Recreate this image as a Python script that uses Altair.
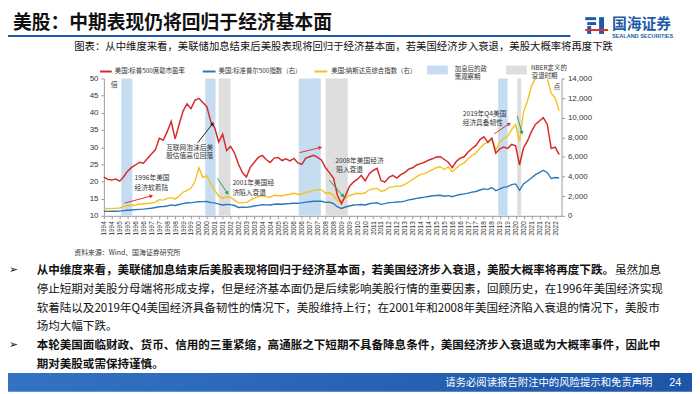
import altair as alt
import pandas as pd
import math

CJK = "Noto Sans CJK SC"
LAT = "Liberation Sans"

# ---------------- data (quarterly) ----------------
start_year = 1994
n_q = 116
t = [start_year + 0.25 * i for i in range(n_q)]

pe = [21.3, 20.6, 20.4, 20.7,  20.1, 21.4, 23.0, 24.1,  24.8, 25.6, 25.3, 26.7,
      28.0, 29.2, 32.6, 32.0,  34.5, 37.5, 32.4, 36.6,  40.5, 42.6, 41.2, 43.6,
      44.2, 43.0, 41.8, 37.5,  35.6, 31.5, 33.8, 29.0,  30.2, 28.3, 25.0, 22.6,
      21.3, 24.2, 25.6, 27.0,  27.6, 26.4, 25.5, 26.8,  27.0, 26.1, 26.6, 26.0,
      26.7, 25.4, 25.0, 26.8,  27.2, 27.6, 27.0, 26.2,  24.0, 22.5, 21.0, 16.0,
      13.5, 15.8, 18.5, 19.8,  20.6, 21.8, 20.2, 22.2,  23.2, 23.8, 20.3, 19.8,
      21.2, 21.8, 21.0, 22.0,  22.6, 23.6, 24.0, 24.8,  25.2, 25.6, 26.2, 26.6,
      27.1, 27.2, 26.4, 25.6,  24.0, 25.8, 26.8, 27.2,  28.6, 29.6, 30.5, 32.2,
      33.0, 31.4, 32.6, 28.2,  29.5, 30.0, 29.6, 30.8,  30.4, 24.8, 29.8, 31.8,
      34.5, 36.6, 37.6, 38.6,  36.6, 29.6, 30.0, 27.8]

spx = [470, 450, 460, 460,  480, 530, 570, 600,  630, 660, 680, 730,
       770, 850, 930, 950,  1000, 1120, 1050, 1150,  1250, 1330, 1320, 1400,
       1440, 1450, 1460, 1350,  1320, 1200, 1100, 1150,  1140, 1050, 850, 880,
       860, 920, 1000, 1060,  1130, 1120, 1110, 1180,  1200, 1180, 1230, 1250,
       1280, 1280, 1320, 1400,  1430, 1490, 1500, 1480,  1370, 1380, 1250, 900,
       750, 900, 1000, 1100,  1120, 1150, 1100, 1230,  1300, 1330, 1170, 1250,
       1350, 1370, 1410, 1420,  1500, 1620, 1690, 1780,  1840, 1900, 1970, 2040,
       2070, 2100, 2000, 2060,  1950, 2080, 2170, 2240,  2320, 2420, 2480, 2630,
       2750, 2700, 2880, 2550,  2750, 2900, 2980, 3180,  3250, 2600, 3250, 3550,
       3850, 4200, 4400, 4650,  4400, 3800, 3900, 3850]

ndx = [780, 730, 760, 760,  800, 930, 1050, 1050,  1100, 1200, 1200, 1280,
       1300, 1400, 1650, 1600,  1750, 1850, 1700, 2000,  2400, 2600, 2800, 3500,
       4900, 3900, 4100, 3300,  2600, 2000, 1800, 1950,  1900, 1600, 1300, 1350,
       1350, 1600, 1800, 1950,  2050, 1950, 1900, 2100,  2050, 2050, 2150, 2200,
       2300, 2200, 2200, 2400,  2450, 2600, 2700, 2650,  2300, 2350, 2100, 1550,
       1450, 1800, 2050, 2200,  2300, 2250, 2350, 2650,  2750, 2800, 2500, 2600,
       2900, 2950, 3050, 3000,  3200, 3450, 3700, 4000,  4200, 4300, 4500, 4700,
       4900, 5000, 4700, 5000,  4500, 4850, 5200, 5400,  5800, 6150, 6400, 6900,
       7300, 7500, 7900, 6700,  7500, 7900, 8100, 8800,  9300, 7600, 10600, 11700,
       13200, 14000, 14800, 15800,  14000, 12500, 12000, 10700]

hike_start = [1995.1, 2000.4, 2006.3, 2018.9]
hike_end = [1995.8, 2001.05, 2007.7, 2019.5]
rec_start = [2001.25, 2008.0, 2020.1]
rec_end = [2002.0, 2009.4, 2020.35]

# arrows: start (year, PE-axis value) -> end
arr_x0 = [1999.93, 1995.31, 2001.18, 2006.36, 2008.23, 2018.66, 2020.10]
arr_y0 = [31.3, 13.7, 20.9, 28.4, 20.4, 33.9, 39.1]
arr_x1 = [2000.87, 1997.00, 2001.80, 2007.67, 2009.10, 2019.60, 2020.40]
arr_y1 = [36.8, 15.8, 16.6, 29.9, 15.8, 36.8, 34.2]
arr_col = ["#222222", "#E0302A", "#1FA060", "#E0302A", "#1FA060", "#E0302A", "#1FA060"]

x_ticks = [1994 + 0.5 * i for i in range(58)]
pe_ticks = [10, 15, 20, 25, 30, 35, 40, 45, 50]
idx_ticks = [0, 2000, 4000, 6000, 8000, 10000, 12000, 14000]

RED = "#D62B2B"
BLUE = "#2A78BC"
YEL = "#F4C21D"
BAND_BLUE = "#C6DDF1"
BAND_GRAY = "#DEDEDE"

W, H = 463, 139

df = pd.DataFrame({"t": t, "pe": pe, "spx": spx, "ndx": ndx})
bands = pd.DataFrame({
    "s": hike_start + rec_start,
    "e": hike_end + rec_end,
    "c": [BAND_BLUE] * len(hike_start) + [BAND_GRAY] * len(rec_start),
})
ang = []
for a, b, c, d in zip(arr_x0, arr_y0, arr_x1, arr_y1):
    dx = (c - a) * W / 28.9
    dy = -(d - b) * H / 40.0
    ang.append(math.degrees(math.atan2(dx, -dy)) % 360)
arrows = pd.DataFrame({"x0": arr_x0, "y0": arr_y0, "x1": arr_x1, "y1": arr_y1,
                       "c": arr_col, "a": ang})
dummy = pd.DataFrame({"d": [0]})

xs = alt.Scale(domain=[1994, 2022.9], nice=False, zero=False)
pe_scale = alt.Scale(domain=[10, 50], nice=False, zero=False)
idx_scale = alt.Scale(domain=[0, 14000], nice=False, zero=False)
xaxis = alt.Axis(values=x_ticks, labelExpr="'' + floor(datum.value)", labelAngle=270,
                 labelFontSize=6.5, labelFont=LAT, labelColor="#333", labelOverlap=False,
                 labelFlush=False, labelPadding=2, tickSize=3, tickColor="#999",
                 domainColor="#999", grid=False, title=None)

band_layer = alt.Chart(bands).mark_rect().encode(
    x=alt.X("s:Q", scale=xs, axis=xaxis), x2="e:Q",
    color=alt.Color("c:N", scale=None))

blue_line = alt.Chart(df).mark_line(color=BLUE, strokeWidth=1.4).encode(
    x=alt.X("t:Q", scale=xs, axis=xaxis),
    y=alt.Y("spx:Q", scale=idx_scale,
            axis=alt.Axis(orient="right", values=idx_ticks, labelFontSize=8, labelFont=LAT,
                          labelColor="#333", tickSize=3, tickColor="#999", domainColor="#999",
                          grid=False, title=None, labelPadding=3)))
yel_line = alt.Chart(df).mark_line(color=YEL, strokeWidth=1.4, clip=True).encode(
    x=alt.X("t:Q", scale=xs, axis=xaxis),
    y=alt.Y("ndx:Q", scale=idx_scale, axis=None))
red_line = alt.Chart(df).mark_line(color=RED, strokeWidth=1.5).encode(
    x=alt.X("t:Q", scale=xs, axis=xaxis),
    y=alt.Y("pe:Q", scale=pe_scale,
            axis=alt.Axis(values=pe_ticks, labelFontSize=8, labelFont=LAT, labelColor="#333",
                          tickSize=3, tickColor="#999", domainColor="#999", grid=False,
                          title=None, labelPadding=3)))

arrow_rule = alt.Chart(arrows).mark_rule(strokeWidth=1).encode(
    x=alt.X("x0:Q", scale=xs, axis=xaxis), x2="x1:Q",
    y=alt.Y("y0:Q", scale=pe_scale, axis=None), y2="y1:Q",
    color=alt.Color("c:N", scale=None))
arrow_head = alt.Chart(arrows).mark_point(shape="triangle-up", filled=True, size=18, opacity=1).encode(
    x=alt.X("x1:Q", scale=xs, axis=xaxis),
    y=alt.Y("y1:Q", scale=pe_scale, axis=None),
    color=alt.Color("c:N", scale=None),
    angle=alt.Angle("a:Q", scale=None))


def txt(s, x, y, size=7.0, color="#333", align="left", weight="normal", font=CJK):
    return alt.Chart(dummy).mark_text(text=s, align=align, baseline="middle", fontSize=size,
                                      color=color, fontWeight=weight, font=font).encode(
        x=alt.value(x), y=alt.value(y))


def rect(x1, y1, x2, y2, fill):
    return alt.Chart(dummy).mark_rect(fill=fill).encode(
        x=alt.value(x1), x2=alt.value(x2), y=alt.value(y1), y2=alt.value(y2))


def hline(x1, x2, y, color, w):
    return alt.Chart(dummy).mark_rule(color=color, strokeWidth=w).encode(
        x=alt.value(x1), x2=alt.value(x2), y=alt.value(y), y2=alt.value(y))


OX, OY = 105, 77  # page position of plot origin


def P(x, y):
    return x - OX, y - OY


deco = []
# title and header
deco.append(txt("美股：中期表现仍将回归于经济基本面", *P(13, 21), size=19, color="#111", weight="bold"))
deco.append(hline(*(P(0, 0)[0], P(577, 0)[0]), P(0, 34)[1], "#1E5AA8", 2))
# logo icon
for (a, b, c, d, f) in [(592, 15, 603, 18, "#1E5AA8"), (594, 20, 603, 23, "#1E5AA8"),
                        (594, 24, 598, 32, "#1E5AA8"), (606, 15, 611, 32, "#1E5AA8"),
                        (592, 27, 615, 29, "#E0302A")]:
    x1, y1 = P(a, b)
    x2, y2 = P(c, d)
    deco.append(rect(x1, y1, x2, y2, f))
deco.append(txt("国海证券", *P(619, 22), size=15, color="#1E5AA8", weight="bold"))
deco.append(txt("SEALAND SECURITIES", *P(619, 34), size=5.6, color="#1E5AA8", weight="bold", font=LAT))
# caption
deco.append(txt("图表：从中维度来看，美联储加息结束后美股表现将回归于经济基本面，若美国经济步入衰退，美股大概率将再度下跌",
                *P(75, 45), size=10.5, color="#111"))
# legend
ly = 70
deco.append(hline(*(P(101, 0)[0], P(113, 0)[0]), P(0, ly)[1], RED, 2))
deco.append(txt("美国:标普500席勒市盈率", *P(116, ly), size=6.5))
deco.append(hline(*(P(205, 0)[0], P(218, 0)[0]), P(0, ly)[1], BLUE, 2))
deco.append(txt("美国:标准普尔500指数（右）", *P(221, ly), size=6.5))
deco.append(hline(*(P(318, 0)[0], P(331, 0)[0]), P(0, ly)[1], YEL, 2))
deco.append(txt("美国:纳斯达克综合指数（右）", *P(335, ly), size=6.5))
x1, y1 = P(432, 64)
x2, y2 = P(453, 73)
deco.append(rect(x1, y1, x2, y2, BAND_BLUE))
deco.append(txt("加息后的政", *P(460, 67), size=6.5))
deco.append(txt("策观察期", *P(460, 76), size=6.5))
x1, y1 = P(512, 64)
x2, y2 = P(533, 73)
deco.append(rect(x1, y1, x2, y2, BAND_GRAY))
deco.append(txt("NBER定义的", *P(537, 66), size=6.5))
deco.append(txt("衰退时期", *P(538, 75), size=6.5))
# units
deco.append(txt("倍", *P(112, 84), size=7))
deco.append(txt("点", *P(560, 86), size=7))
# annotations
ann = [("互联网泡沫后美", 168, 147), ("股估值高位回落", 168, 156),
       ("1996年美国", 136, 178), ("经济软着陆", 136, 188),
       ("2001年美国经", 235, 183), ("济陷入衰退", 235, 193),
       ("2008年美国经济", 339, 161), ("陷入衰退", 340, 170),
       ("2019年Q4美国", 468, 113), ("经济具备韧性", 468, 122)]
for s, a, b in ann:
    deco.append(txt(s, *P(a, b), size=6.8, color="#333"))
# source
deco.append(txt("资料来源：Wind、国海证券研究所", *P(75, 254), size=7, color="#333"))
# bullets
FS = 11.7
lx = 37
line_y = [271, 290, 309, 328, 347, 366]
bold1 = "从中维度来看，美联储加息结束后美股表现将回归于经济基本面，若美国经济步入衰退，美股大概率将再度下跌。"
deco.append(txt("➢", *P(9, line_y[0]), size=11, color="#111", font="DejaVu Sans"))
deco.append(txt(bold1, *P(lx, line_y[0]), size=FS, color="#111", weight="bold"))
deco.append(txt("虽然加息", *P(lx + FS * len(bold1), line_y[0]), size=FS, color="#111"))
deco.append(txt("停止短期对美股分母端将形成支撑，但是经济基本面仍是后续影响美股行情的重要因素，回顾历史，在1996年美国经济实现",
                *P(lx, line_y[1]), size=FS, color="#111"))
deco.append(txt("软着陆以及2019年Q4美国经济具备韧性的情况下，美股维持上行；在2001年和2008年美国经济陷入衰退的情况下，美股市",
                *P(lx, line_y[2]), size=FS, color="#111"))
deco.append(txt("场均大幅下跌。", *P(lx, line_y[3]), size=FS, color="#111"))
deco.append(txt("➢", *P(9, line_y[4]), size=11, color="#111", font="DejaVu Sans"))
deco.append(txt("本轮美国面临财政、货币、信用的三重紧缩，高通胀之下短期不具备降息条件，美国经济步入衰退或为大概率事件，因此中",
                *P(lx, line_y[4]), size=FS, color="#111", weight="bold"))
deco.append(txt("期对美股或需保持谨慎。", *P(lx, line_y[5]), size=FS, color="#111", weight="bold"))
# footer
grad = alt.Gradient(gradient="linear", x1=0, y1=0, x2=1, y2=0,
                    stops=[alt.GradientStop(color="#3373C4", offset=0),
                           alt.GradientStop(color="#1D55A8", offset=1)])
fx1, fy1 = P(0, 375)
fx2, fy2 = P(700, 394)
deco.append(alt.Chart(dummy).mark_rect(fill=grad).encode(
    x=alt.value(fx1), x2=alt.value(fx2), y=alt.value(fy1), y2=alt.value(fy2)))
deco.append(txt("请务必阅读报告附注中的风险提示和免责声明", *P(660, 385), size=10.5, color="white", align="right"))
deco.append(txt("24", *P(683, 385), size=11, color="white", align="center", font=LAT))

chart = alt.layer(band_layer, blue_line, yel_line, red_line, arrow_rule, arrow_head, *deco).resolve_scale(
    y="independent"
).properties(
    width=W, height=H,
    autosize=alt.AutoSizeParams(type="none"),
    padding={"left": 97, "top": 69, "right": 132, "bottom": 178},
    background="white",
).configure_view(stroke=None)

chart.save("out.html", embed_options={"renderer": "svg", "actions": False})
